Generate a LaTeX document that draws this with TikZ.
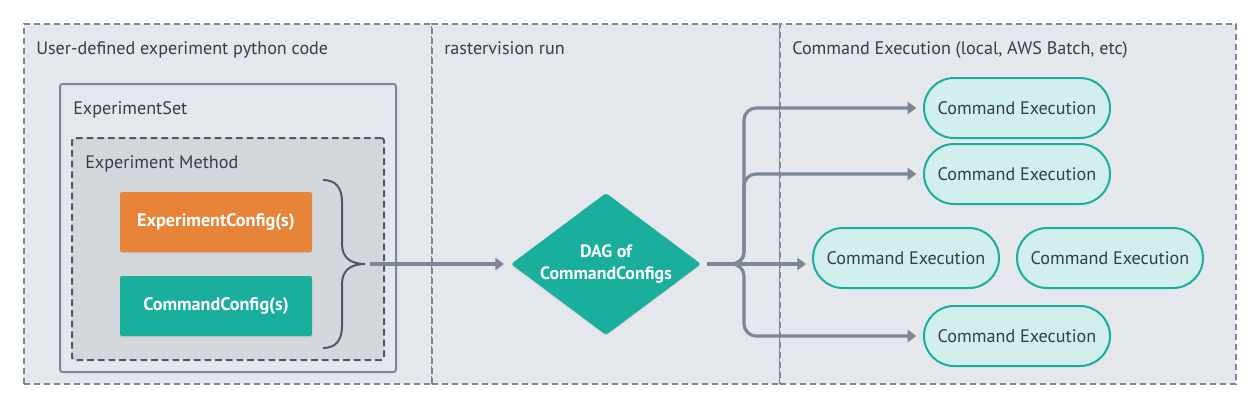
\documentclass[tikz,border=0pt]{standalone}
\usepackage{fontspec}
\setmainfont{PT Sans}
\usetikzlibrary{arrows.meta,shapes.geometric,shadows}

\definecolor{panelfill}{HTML}{E4E7EB}
\definecolor{methodfill}{HTML}{D3D7DB}
\definecolor{linegray}{HTML}{7B8794}
\definecolor{darkline}{HTML}{4A5968}
\definecolor{textgray}{HTML}{323F4B}
\definecolor{configorange}{HTML}{E8843A}
\definecolor{configteal}{HTML}{1AAE9C}
\definecolor{execfill}{HTML}{D1EFEC}

\tikzset{%
  every label text/.style={
    font=\fontsize{13.6}{16}\selectfont,
    text=textgray,
    inner sep=0pt
  },
  panel/.style={
    rectangle,
    draw=linegray,
    fill=panelfill,
    line width=1.1pt,
    dash pattern=on 4.5pt off 3pt,
    minimum height=270pt,
    inner sep=0pt
  },
  config/.style={
    rectangle,
    rounded corners=1.5pt,
    minimum width=144pt,
    minimum height=45pt,
    text=white,
    font=\fontsize{13.6}{16}\selectfont\bfseries,
    drop shadow={shadow xshift=0pt, shadow yshift=-1pt, opacity=.18}
  },
  exec/.style={
    rectangle,
    rounded corners=22.5pt,
    draw=configteal,
    fill=execfill,
    line width=1.5pt,
    minimum width=139.5pt,
    minimum height=45pt,
    text=textgray,
    font=\fontsize{13.6}{16}\selectfont
  },
  flow/.style={
    draw=linegray,
    line width=2.4pt,
    -{Triangle[length=6.5pt,width=9pt]}
  },
}

\begin{document}
\begin{tikzpicture}[x=0.75pt, y=-0.75pt]

    \useasboundingbox (0,0) rectangle (1260,408);

    \node [panel, minimum width=306pt] (panel-code) at (228,204) {};
    \node [panel, minimum width=261pt] (panel-run) at (606,204) {};
    \node [panel, minimum width=342pt] (panel-exec) at (1008,204) {};

    \foreach \x/\l in {36/User-defined experiment python code, 444/rastervision run,
                       792/{Command Execution (local, AWS Batch, etc)}}
      \node [every label text, anchor=base west] at (\x,54) {\l};

    \node [draw=linegray, line width=1.5pt, rounded corners=2pt,
           minimum width=252pt, minimum height=216pt] (expset) at (228,228) {};
    \node [every label text, anchor=base west] at (73,114) {ExperimentSet};

    \node [draw=darkline, fill=methodfill, line width=1.5pt, rounded corners=2pt,
           dash pattern=on 5pt off 3pt,
           minimum width=234pt, minimum height=166.5pt] (expmethod) at (228,249) {};
    \node [every label text, anchor=base west] at (85,168) {Experiment Method};

    \node [config, fill=configorange] (expconfig) at (216,222) {ExperimentConfig(s)};
    \node [config, fill=configteal] (cmdconfig) at (216,306) {CommandConfig(s)};

    \draw [darkline, line width=1.5pt]
      (323,180) .. controls (336,180) and (342,188) .. (342,202) -- (342,244)
      .. controls (342,257) and (350,264) .. (365,264)
      .. controls (350,264) and (342,271) .. (342,284) -- (342,326)
      .. controls (342,340) and (336,348) .. (323,348);
    \coordinate (brace-tip) at (370,264);

    \node [diamond, aspect=1.34, inner sep=0pt, fill=configteal, rounded corners=2pt,
           minimum width=142.5pt, minimum height=106.5pt, align=center,
           text=white, font=\fontsize{13.4}{16.5}\selectfont\bfseries,
           drop shadow={shadow xshift=0pt, shadow yshift=-1pt, opacity=.18}]
      (dag) at (606,264) {DAG of\\CommandConfigs};

    \draw [flow, shorten >=5pt] (brace-tip) -- (dag.west);

    \foreach \n/\pos in {1/{1017,108}, 2/{1017,174}, 3/{906,258}, 4/{1110,258}, 5/{1017,336}}
      \node [exec] (exec-\n) at (\pos) {Command Execution};

    \coordinate (fan-start) at (707,264);
    \coordinate (fan-split) at (744,264);

    \foreach \n in {1,2,5}
      \draw [flow, rounded corners=9pt, shorten >=5pt]
        (fan-start) -- (fan-split) |- (exec-\n.west);

    \draw [flow, shorten >=4.5pt] (fan-start) -- (exec-3.west |- fan-start);

\end{tikzpicture}
\end{document}
